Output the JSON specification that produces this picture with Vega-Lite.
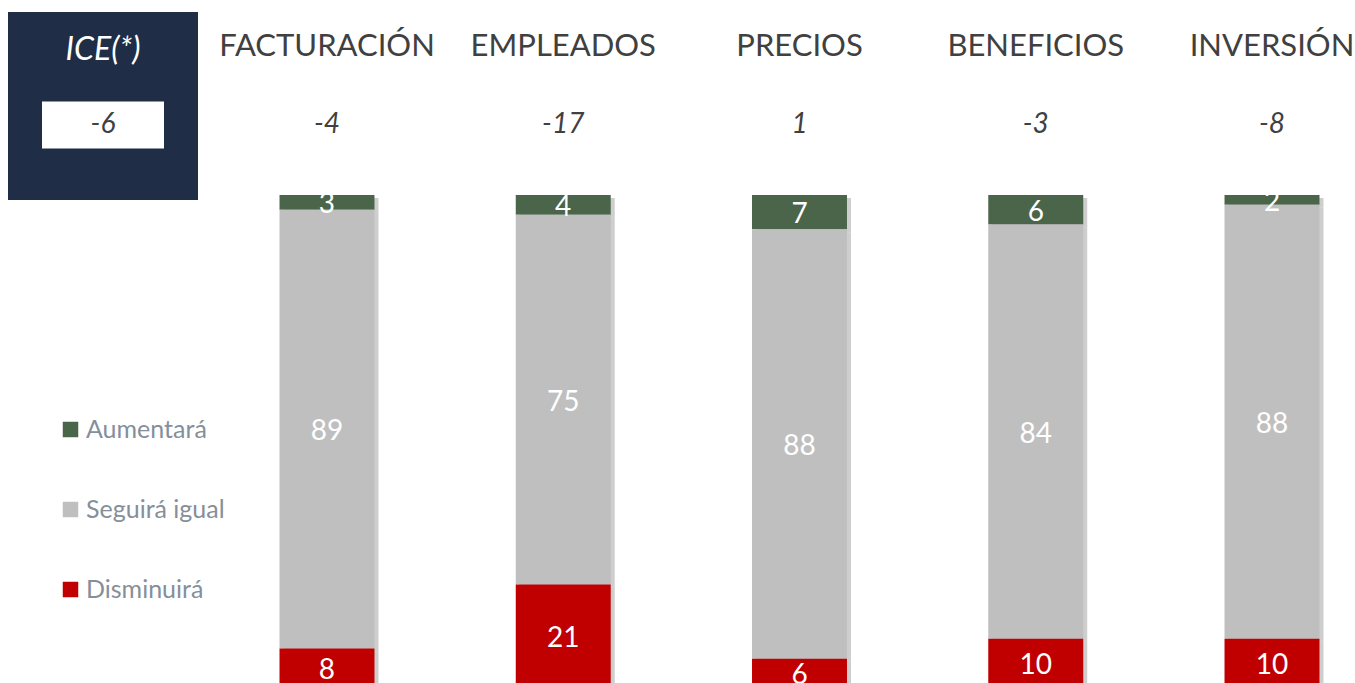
{
  "$schema": "https://vega.github.io/schema/vega-lite/v6.json",
  "padding": {"left": 8, "top": 12, "right": 0, "bottom": 0},
  "background": "white",
  "spacing": 46,
  "bounds": "flush",
  "config": {"view": {"stroke": null}, "font": "Lato"},
  "datasets": {
    "bars": [
      {"cat": "FACTURACIÓN", "serie": "Aumentará", "ord": 3, "value": 3},
      {"cat": "FACTURACIÓN", "serie": "Seguirá igual", "ord": 2, "value": 89},
      {"cat": "FACTURACIÓN", "serie": "Disminuirá", "ord": 1, "value": 8},
      {"cat": "EMPLEADOS", "serie": "Aumentará", "ord": 3, "value": 4},
      {"cat": "EMPLEADOS", "serie": "Seguirá igual", "ord": 2, "value": 75},
      {"cat": "EMPLEADOS", "serie": "Disminuirá", "ord": 1, "value": 21},
      {"cat": "PRECIOS", "serie": "Aumentará", "ord": 3, "value": 7},
      {"cat": "PRECIOS", "serie": "Seguirá igual", "ord": 2, "value": 88},
      {"cat": "PRECIOS", "serie": "Disminuirá", "ord": 1, "value": 6},
      {"cat": "BENEFICIOS", "serie": "Aumentará", "ord": 3, "value": 6},
      {"cat": "BENEFICIOS", "serie": "Seguirá igual", "ord": 2, "value": 84},
      {"cat": "BENEFICIOS", "serie": "Disminuirá", "ord": 1, "value": 10},
      {"cat": "INVERSIÓN", "serie": "Aumentará", "ord": 3, "value": 2},
      {"cat": "INVERSIÓN", "serie": "Seguirá igual", "ord": 2, "value": 88},
      {"cat": "INVERSIÓN", "serie": "Disminuirá", "ord": 1, "value": 10}
    ],
    "heads": [
      {"cat": "FACTURACIÓN", "name": "FACTURACIÓN", "val": "-4"},
      {"cat": "EMPLEADOS", "name": "EMPLEADOS", "val": "-17"},
      {"cat": "PRECIOS", "name": "PRECIOS", "val": "1"},
      {"cat": "BENEFICIOS", "name": "BENEFICIOS", "val": "-3"},
      {"cat": "INVERSIÓN", "name": "INVERSIÓN", "val": "-8"}
    ],
    "ice": [
      {"title": "ICE(*)", "val": "-6"}
    ]
  },
  "hconcat": [
    {
      "width": 190,
      "height": 188,
      "view": {"fill": "#1F2D46", "stroke": null},
      "data": {"name": "ice"},
      "layer": [
        {
          "mark": {"type": "point", "shape": "M-1,-0.385L1,-0.385L1,0.385L-1,0.385Z", "filled": true, "color": "white", "opacity": 1, "size": 14884, "strokeWidth": 0},
          "encoding": {
            "y": {"datum": "value", "type": "nominal", "scale": {"domain": ["title", "value"], "range": [38, 113], "padding": 0}, "axis": null}
          }
        },
        {
          "mark": {"type": "text", "fontStyle": "italic", "fontSize": 32, "color": "white", "baseline": "middle"},
          "encoding": {
            "y": {"datum": "title", "type": "nominal", "scale": {"domain": ["title", "value"], "range": [38, 113], "padding": 0}, "axis": null},
            "text": {"field": "title"}
          }
        },
        {
          "mark": {"type": "text", "fontStyle": "italic", "fontSize": 28, "color": "#404040", "baseline": "middle"},
          "encoding": {
            "y": {"datum": "value", "type": "nominal", "scale": {"domain": ["title", "value"], "range": [38, 113], "padding": 0}, "axis": null},
            "text": {"field": "val"}
          }
        }
      ]
    },
    {
      "width": 1111,
      "height": 671,
      "resolve": {"scale": {"y": "independent"}},
      "layer": [
        {
          "data": {"name": "bars"},
          "encoding": {
            "x": {"field": "cat", "type": "nominal", "sort": ["FACTURACIÓN", "EMPLEADOS", "PRECIOS", "BENEFICIOS", "INVERSIÓN"], "scale": {"paddingInner": 0.598, "paddingOuter": 0.1503}, "axis": null}
          },
          "layer": [
            {
              "mark": {"type": "bar", "xOffset": 4, "yOffset": 3, "color": "#A6A6A6", "opacity": 0.55, "clip": true},
              "encoding": {
                "y": {"field": "value", "type": "quantitative", "stack": "normalize", "scale": {"domain": [0.0101, 1.3712]}, "axis": null},
                "detail": {"field": "serie"},
                "order": {"field": "ord", "type": "quantitative"}
              }
            },
            {
              "mark": {"type": "bar", "clip": true},
              "encoding": {
                "y": {"field": "value", "type": "quantitative", "stack": "normalize", "scale": {"domain": [0.0101, 1.3712]}, "axis": null},
                "color": {
                  "field": "serie", "type": "nominal",
                  "scale": {"domain": ["Aumentará", "Seguirá igual", "Disminuirá"], "range": ["#4A6549", "#BFBFBF", "#C00000"]},
                  "legend": {
                    "orient": "none", "legendX": 50, "legendY": 405, "title": null,
                    "symbolType": "square", "symbolSize": 240, "symbolStrokeWidth": 0, "symbolOpacity": 1,
                    "labelFontSize": 25, "labelColor": "#858F9B", "labelFont": "Lato",
                    "rowPadding": 54, "labelOffset": 3, "padding": 0, "symbolOffset": 0
                  }
                },
                "order": {"field": "ord", "type": "quantitative"}
              }
            },
            {
              "mark": {"type": "text", "color": "white", "fontSize": 28, "baseline": "middle", "dy": 3},
              "encoding": {
                "y": {"field": "value", "type": "quantitative", "stack": "normalize", "bandPosition": 0.5, "scale": {"domain": [0.0101, 1.3712]}, "axis": null},
                "detail": {"field": "serie"},
                "order": {"field": "ord", "type": "quantitative"},
                "text": {"field": "value", "type": "quantitative"}
              }
            }
          ]
        },
        {
          "data": {"name": "heads"},
          "encoding": {
            "x": {"field": "cat", "type": "nominal", "sort": ["FACTURACIÓN", "EMPLEADOS", "PRECIOS", "BENEFICIOS", "INVERSIÓN"], "axis": null}
          },
          "layer": [
            {
              "mark": {"type": "text", "fontSize": 31, "color": "#404040", "baseline": "middle"},
              "encoding": {
                "y": {"datum": "name", "type": "nominal", "scale": {"domain": ["name", "value"], "range": [35, 113], "padding": 0}, "axis": null},
                "text": {"field": "name"}
              }
            },
            {
              "mark": {"type": "text", "fontSize": 28, "fontStyle": "italic", "color": "#404040", "baseline": "middle"},
              "encoding": {
                "y": {"datum": "value", "type": "nominal", "scale": {"domain": ["name", "value"], "range": [35, 113], "padding": 0}, "axis": null},
                "text": {"field": "val"}
              }
            }
          ]
        }
      ]
    }
  ]
}
